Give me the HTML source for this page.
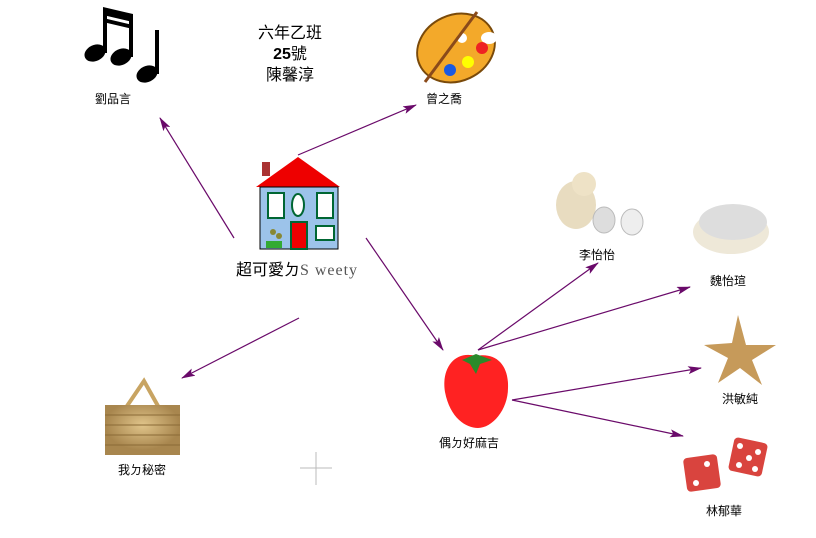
<!DOCTYPE html>
<html><head><meta charset="utf-8">
<style>
html,body{margin:0;padding:0;background:#fff;}
body{width:816px;height:538px;overflow:hidden;position:relative;font-family:"Liberation Sans","Noto Sans CJK TC",sans-serif;}
.l{position:absolute;font-size:12px;color:#000;transform:translateX(-50%);white-space:nowrap;}
svg{position:absolute;left:0;top:0;}
</style></head><body>
<svg width="816" height="538" viewBox="0 0 816 538">
<defs>
<marker id="a" markerWidth="14" markerHeight="8" refX="13" refY="4" orient="auto" markerUnits="userSpaceOnUse">
<path d="M0,0 L14,4 L0,8 L3,4 Z" fill="#6a0a6a"/></marker>
<radialGradient id="bk" cx="50%" cy="40%"><stop offset="0" stop-color="#e0c48a"/><stop offset="1" stop-color="#a8864e"/></radialGradient>
</defs>
<g stroke="#6a0a6a" stroke-width="1.2" fill="none" marker-end="url(#a)">
<line x1="234" y1="238" x2="160" y2="118"/>
<line x1="298" y1="155" x2="416" y2="105"/>
<line x1="366" y1="238" x2="443" y2="350"/>
<line x1="299" y1="318" x2="182" y2="378"/>
<line x1="478" y1="350" x2="598" y2="263"/>
<line x1="478" y1="350" x2="690" y2="287"/>
<line x1="512" y1="400" x2="701" y2="368"/>
<line x1="512" y1="400" x2="683" y2="436"/>
</g>
<!-- music notes -->
<g fill="#000">
<ellipse cx="95" cy="53" rx="11" ry="8" transform="rotate(-25 95 53)"/>
<ellipse cx="121" cy="57" rx="11" ry="8" transform="rotate(-25 121 57)"/>
<ellipse cx="147" cy="74" rx="11" ry="8" transform="rotate(-25 147 74)"/>
<rect x="103" y="9" width="4" height="44"/><rect x="129" y="14" width="4" height="43"/>
<rect x="155" y="30" width="4" height="44"/>
<polygon points="103,7 133,14 133,22 103,15"/><polygon points="103,18 133,25 133,29 103,22"/>
</g>
<!-- palette -->
<ellipse cx="456" cy="48" rx="40" ry="33" fill="#f3a92a" stroke="#7a4a0a" stroke-width="2" transform="rotate(-25 456 48)"/>
<ellipse cx="489" cy="38" rx="8" ry="6" fill="#fff"/>
<circle cx="462" cy="38" r="5" fill="#fff"/><circle cx="482" cy="48" r="6" fill="#e22"/>
<circle cx="468" cy="62" r="6" fill="#ff0"/><circle cx="450" cy="70" r="6" fill="#1a5ae0"/>
<line x1="425" y1="82" x2="477" y2="12" stroke="#8a4a1a" stroke-width="3"/>
<!-- house -->
<rect x="262" y="162" width="8" height="14" fill="#a33"/>
<polygon points="298,157 256,187 340,187" fill="#e00"/>
<rect x="260" y="187" width="78" height="62" fill="#9cc3ea" stroke="#000"/>
<g fill="#fff" stroke="#063" stroke-width="2">
<rect x="268" y="193" width="16" height="25"/><rect x="317" y="193" width="16" height="25"/>
<ellipse cx="298" cy="205" rx="6" ry="11"/><rect x="316" y="226" width="18" height="14"/>
</g>
<rect x="291" y="222" width="16" height="27" fill="#e00" stroke="#063" stroke-width="2"/>
<circle cx="273" cy="232" r="3" fill="#883"/><circle cx="279" cy="236" r="3" fill="#883"/>
<rect x="266" y="241" width="16" height="7" fill="#3a3"/>
<!-- strawberry -->
<path d="M476,356 C455,350 441,368 445,392 C450,418 466,428 478,428 C492,428 508,410 508,388 C509,364 495,352 476,356 Z" fill="#f22"/>
<path d="M462,360 L476,354 L492,360 L480,364 L476,374 L470,364 Z" fill="#2a8a2a"/>
<!-- chick -->
<ellipse cx="576" cy="205" rx="20" ry="24" fill="#e8dcc0"/>
<circle cx="584" cy="184" r="12" fill="#eee2c6"/>
<ellipse cx="604" cy="220" rx="11" ry="13" fill="#ddd" stroke="#bbb"/>
<ellipse cx="632" cy="222" rx="11" ry="13" fill="#eee" stroke="#bbb"/>
<!-- clam -->
<ellipse cx="731" cy="232" rx="38" ry="22" fill="#eee8d8"/>
<ellipse cx="733" cy="222" rx="34" ry="18" fill="#ddd"/>
<!-- starfish -->
<polygon points="738,315 746,345 776,345 752,360 762,385 740,368 718,383 728,358 704,345 732,343" fill="#c69a5a"/>
<!-- dice -->
<rect x="685" y="456" width="34" height="34" rx="4" fill="#d9443e" transform="rotate(-8 702 473)"/>
<rect x="731" y="440" width="34" height="34" rx="4" fill="#d9443e" transform="rotate(12 748 457)"/>
<g fill="#fff"><circle cx="707" cy="464" r="3"/><circle cx="696" cy="483" r="3"/>
<circle cx="740" cy="446" r="3"/><circle cx="758" cy="452" r="3"/><circle cx="749" cy="458" r="3"/><circle cx="739" cy="465" r="3"/><circle cx="755" cy="469" r="3"/></g>
<!-- basket -->
<path d="M127,406 L144,381 L158,406" stroke="#c8a462" stroke-width="4" fill="none"/>
<rect x="105" y="405" width="75" height="50" fill="url(#bk)"/>
<g stroke="#8a6a36" stroke-width="1"><line x1="105" y1="415" x2="180" y2="415"/><line x1="105" y1="425" x2="180" y2="425"/><line x1="105" y1="435" x2="180" y2="435"/><line x1="105" y1="445" x2="180" y2="445"/></g>
<!-- cross -->
<g stroke="#bbb"><line x1="316" y1="452" x2="316" y2="485"/><line x1="300" y1="468" x2="332" y2="468"/></g>
</svg>
<div class="l" style="left:290px;top:23px;font-size:16px;line-height:21px;text-align:center;">六年乙班<br><b>25</b>號<br>陳馨淳</div>
<div class="l" style="left:113px;top:90px;">劉品言</div>
<div class="l" style="left:444px;top:90px;">曾之喬</div>
<div class="l" style="left:297px;top:256px;font-size:16px;">超可愛ㄉ<span style="font-family:'Liberation Serif',serif;color:#555;letter-spacing:1px;">S weety</span></div>
<div class="l" style="left:597px;top:246px;">李怡怡</div>
<div class="l" style="left:728px;top:272px;">魏怡瑄</div>
<div class="l" style="left:740px;top:390px;">洪敏純</div>
<div class="l" style="left:469px;top:434px;">偶ㄉ好麻吉</div>
<div class="l" style="left:142px;top:461px;">我ㄉ秘密</div>
<div class="l" style="left:724px;top:502px;">林郁華</div>
</body></html>
